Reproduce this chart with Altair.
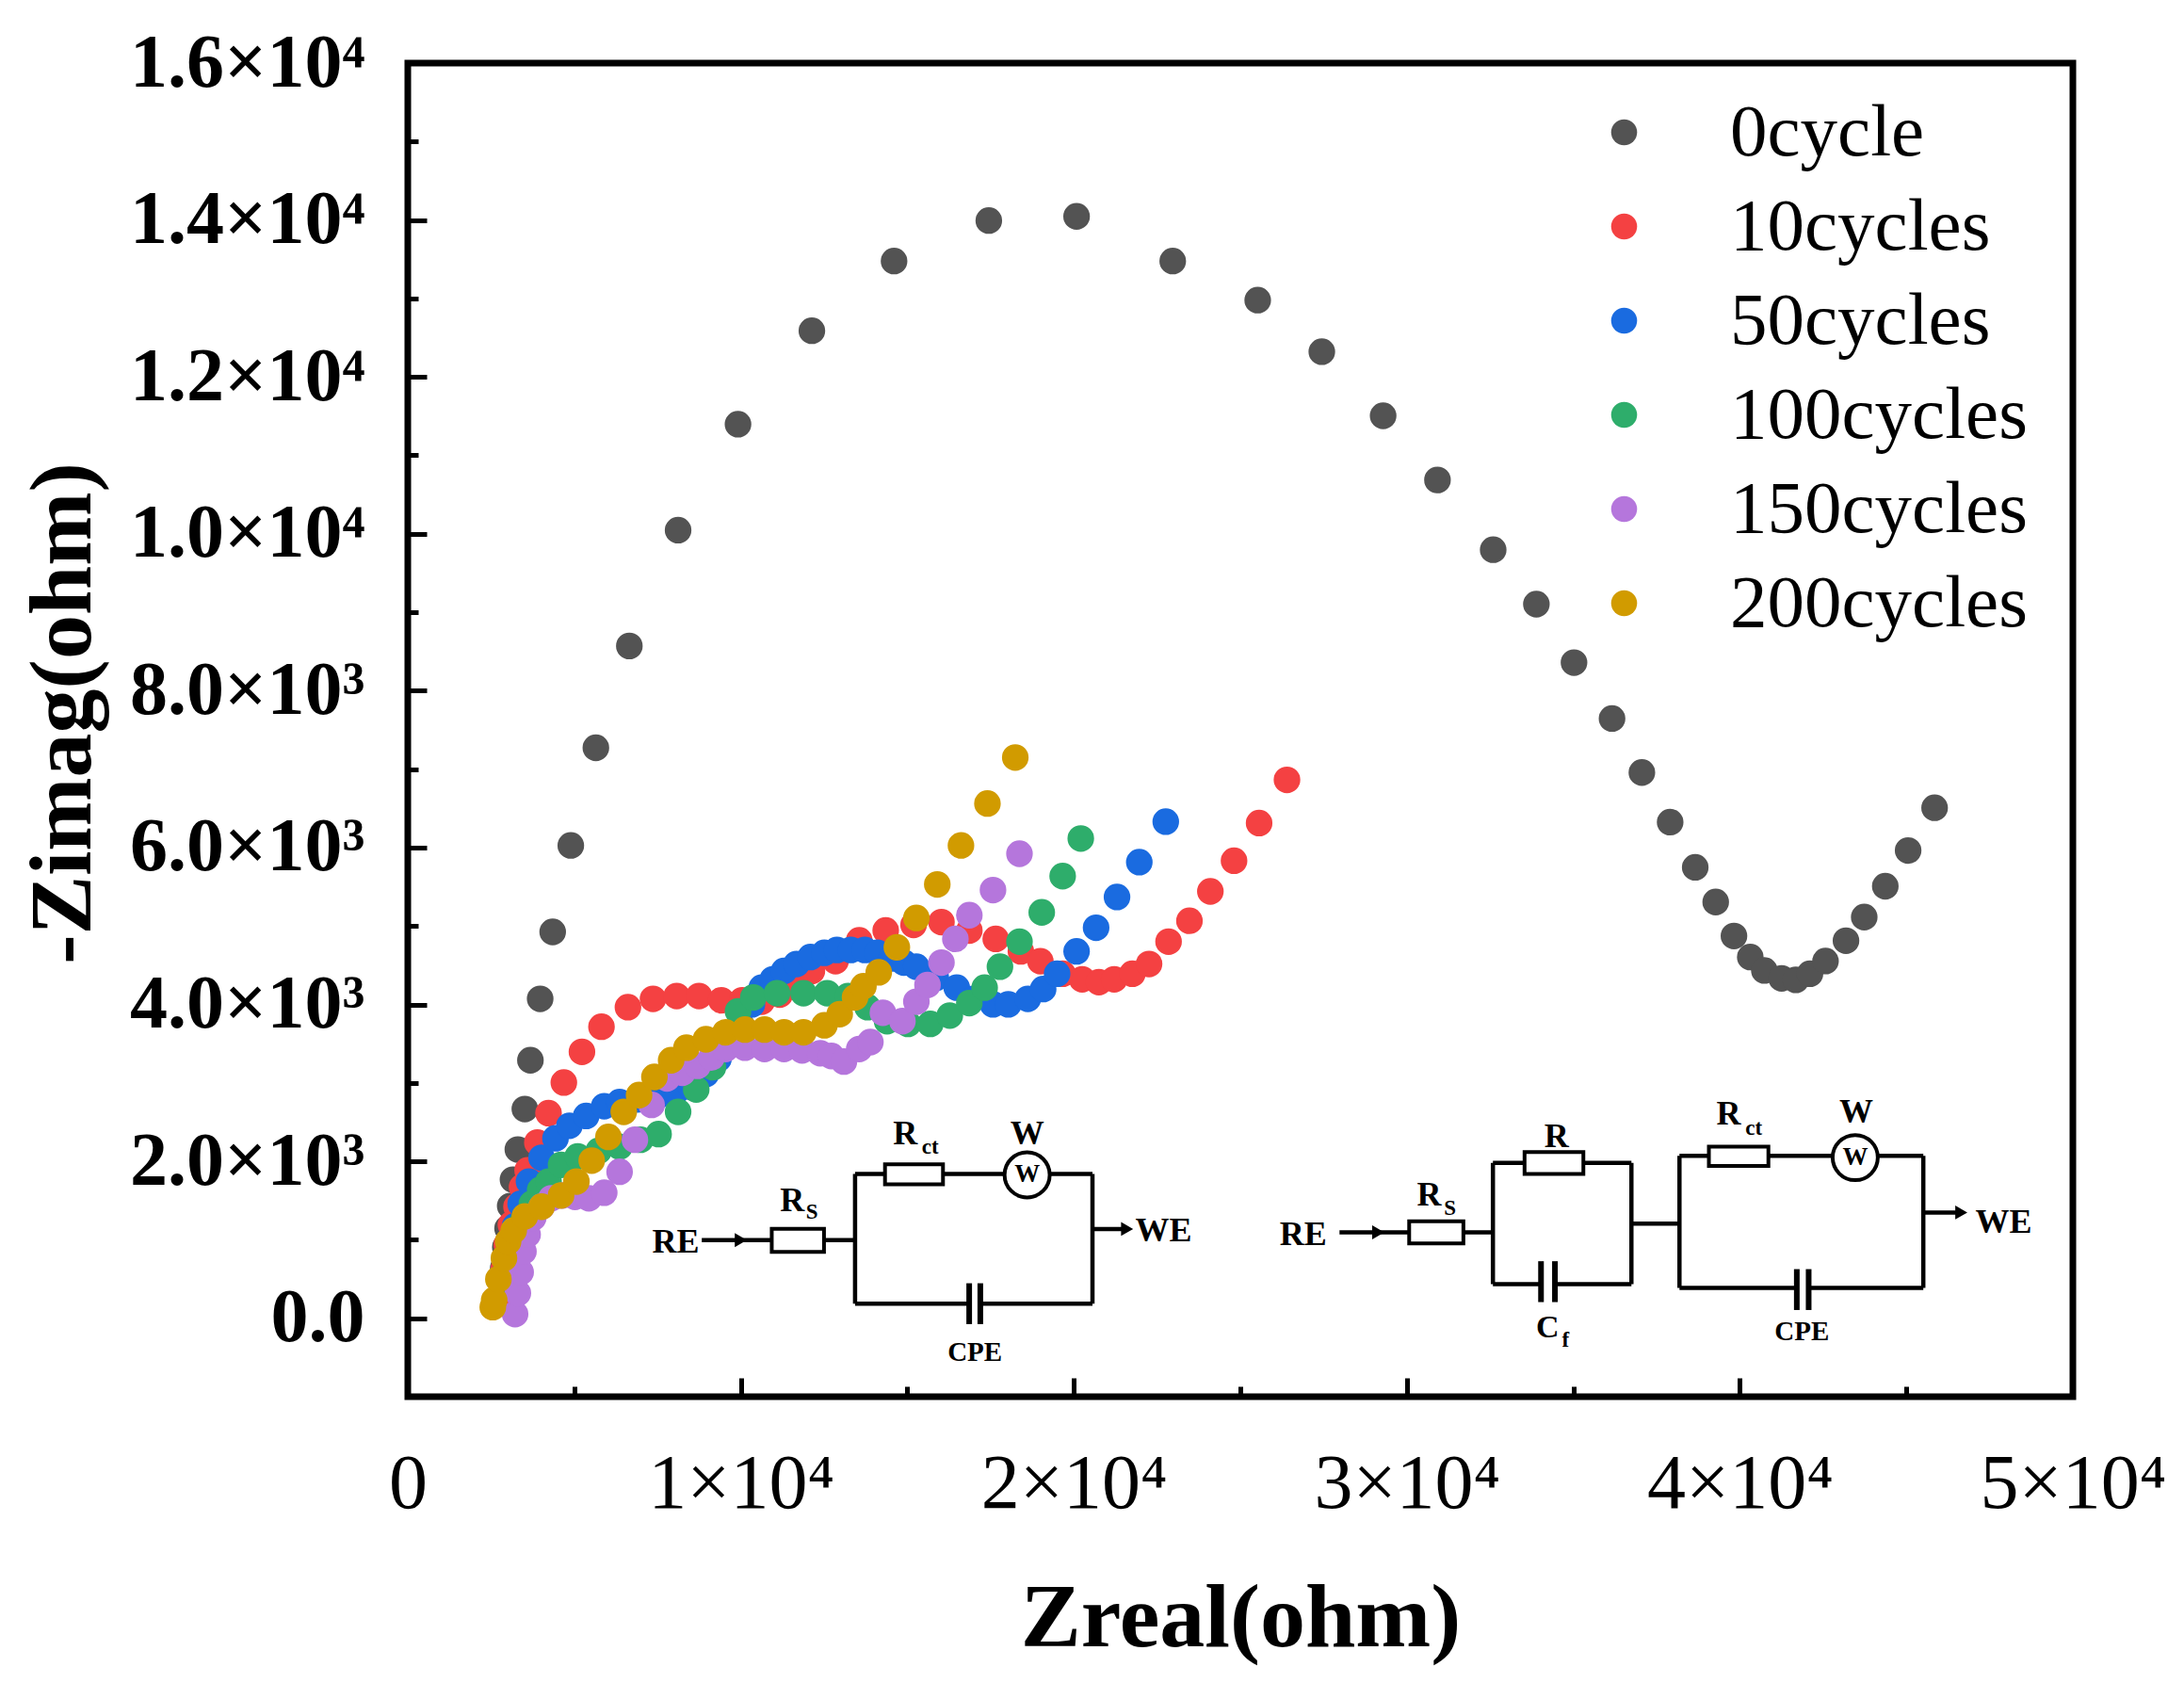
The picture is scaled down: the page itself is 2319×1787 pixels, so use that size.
import altair as alt
import pandas as pd

# ---- impedance data ----
SERIES = ['0cycle', '10cycles', '50cycles', '100cycles', '150cycles', '200cycles']
COLORS = ['#535353', '#F44142', '#1A6BE0', '#2EAD6B', '#B576DC', '#D19B00']

x0 = [2803, 2866, 2929, 2996, 3075, 3159, 3305, 3515, 3682, 3975, 4351, 4895, 5648, 6653, 8117,
      9916, 12134, 14602, 17447, 20083, 22970, 25522, 27447, 29288, 30920, 32593, 33890, 35020,
      36162, 37058, 37907, 38660, 39275, 39823, 40313, 40736, 41254, 41681, 42104, 42572, 43187,
      43735, 44367, 45053, 45848]
y0 = [320, 640, 907, 1145, 1430, 1767, 2151, 2667, 3289, 4072, 4925, 6027, 7272, 8570, 10046,
      11397, 12588, 13477, 13993, 14046, 13477, 12979, 12321, 11504, 10686, 9797, 9103, 8357,
      7645, 6957, 6324, 5748, 5306, 4873, 4605, 4433, 4333, 4313, 4392, 4553, 4813,
      5114, 5507, 5963, 6507]

x10 = [2803, 2887, 2971, 3096, 3264, 3431, 3598, 3891, 4226, 4686, 5230, 5816, 6611, 7364, 8075,
       8745, 9414, 10042, 10627, 11171, 11673, 12134, 12845, 13556, 14351, 15188, 16025, 16862,
       17656, 18410, 18995, 19665, 20251, 20753, 21213, 21757, 22259, 22845, 23472, 24100, 24811,
       25564, 26401]
y10 = [320, 640, 942, 1191, 1422, 1671, 1885, 2240, 2614, 3005, 3396, 3716, 3965, 4072, 4107,
       4107, 4054, 4054, 4036, 4125, 4267, 4427, 4552, 4818, 4943, 5014, 5050, 4943,
       4836, 4676, 4552, 4392, 4321, 4285, 4321, 4392, 4516, 4801, 5067, 5441, 5832,
       6312, 6863]

x50 = [2929, 3054, 3222, 3389, 3640, 4017, 4435, 4853, 5356, 5899, 6360, 6904, 7489, 8033, 8494,
       8954, 9330, 9665, 10000, 10334, 10627, 10962, 11297, 11673, 12092, 12510, 12887, 13305,
       13724, 14100, 14518, 14895, 15272, 15857, 16485, 16987, 17573, 18033, 18619, 19079, 19497,
       20083, 20669, 21297, 21966, 22761]
y50 = [587, 889, 1173, 1458, 1742, 2045, 2294, 2454, 2578, 2703, 2756, 2791, 2827, 2880, 2951,
       3112, 3307, 3520, 3752, 4001, 4214, 4321, 4427, 4516, 4605, 4658, 4694, 4694,
       4694, 4658, 4587, 4534, 4481, 4338, 4214, 4072, 4001, 4001, 4072, 4196, 4392,
       4676, 4978, 5370, 5814, 6330]

x100 = [2971, 3096, 3264, 3473, 3724, 3975, 4226, 4602, 5104, 5732, 6360, 6987, 7531, 8117, 8661,
        9163, 9498, 9916, 10376, 11088, 11883, 12594, 13221, 13807, 14393, 15021, 15690, 16276,
        16862, 17322, 17782, 18368, 19037, 19665, 20209]
y100 = [409, 711, 978, 1245, 1458, 1636, 1742, 1956, 2062, 2134, 2187, 2276, 2347, 2631, 2916,
        3200, 3556, 3912, 4089, 4143, 4143, 4143, 4107, 3965, 3787, 3752, 3752, 3858,
        4018, 4214, 4481, 4801, 5174, 5636, 6116]

x150 = [3222, 3305, 3389, 3473, 3598, 3766, 4017, 4310, 4644, 5021, 5439, 5899, 6360, 6820, 7322,
        7782, 8243, 8703, 9121, 9540, 10125, 10711, 11297, 11841, 12385, 12720, 13096, 13556,
        13891, 14267, 14853, 15272, 15606, 16025, 16443, 16862, 17573, 18368]
y150 = [53, 320, 587, 853, 1067, 1280, 1422, 1529, 1565, 1547, 1529, 1600, 1867, 2276, 2720,
        3058, 3129, 3218, 3325, 3432, 3449, 3432, 3432, 3414, 3378, 3343, 3272, 3432,
        3520, 3894, 3787, 4036, 4249, 4534, 4836, 5138, 5458, 5921]

x200 = [2552, 2594, 2720, 2887, 3012, 3180, 3515, 4017, 4602, 5063, 5523, 6025, 6485, 6945, 7406,
        7908, 8368, 8954, 9540, 10125, 10711, 11297, 11883, 12510, 12970, 13431, 13682, 14142,
        14686, 15272, 15900, 16611, 17406, 18242]
y200 = [142, 231, 498, 765, 978, 1120, 1298, 1422, 1565, 1742, 2009, 2311, 2631, 2845, 3076,
        3289, 3449, 3556, 3645, 3680, 3680, 3645, 3645, 3734, 3876, 4089, 4232, 4409,
        4729, 5103, 5530, 6027, 6561, 7148]

X_TICKS = [0, 10000, 20000, 30000, 40000, 50000]
X_MINOR = [5000, 15000, 25000, 35000, 45000]
Y_TICKS = [0, 2000, 4000, 6000, 8000, 10000, 12000, 14000, 16000]
Y_MINOR = [1000, 3000, 5000, 7000, 9000, 11000, 13000, 15000]

# ---- equivalent circuit insets (drawn in data units) ----
wire_x = [8828, 13431, 13431, 20560, 13431, 17192, 20560,
          27978, 32585, 32585, 36744, 32585, 34447, 36744, 38187, 38187, 45509, 38187, 42066, 45509]
wire_y = [996, 185, 1840, 185, 185, 185, 1138,
          1095, 434, 1981, 434, 434, 434, 1207, 386, 2070, 386, 386, 386, 1348]
wire_x2 = [13431, 13431, 20560, 20560, 16858, 20560, 21500,
           32585, 32585, 36744, 36744, 34029, 36744, 38187, 38187, 45509, 45509, 41710, 45509, 46560]
wire_y2 = [996, 1840, 1840, 1840, 185, 185, 1138,
           1095, 1981, 1981, 1981, 434, 434, 1207, 2070, 2070, 2070, 386, 386, 1348]

plate_x = [16858, 17192, 34029, 34447, 41710, 42066]
plate_lo = [-75, -75, 206, 206, 105, 105]
plate_hi = [446, 446, 727, 727, 626, 626]

res_x = [10929, 14330, 30070, 33535, 39070]
res_x2 = [12498, 16071, 31698, 35301, 40857]
res_y = [846, 1707, 955, 1840, 1940]
res_y2 = [1140, 1961, 1236, 2118, 2189]

warburg_x = [18598, 43464]
warburg_y = [1828, 2048]

arrow_x = [10000, 21600, 29141, 46650]
arrow_y = [996, 1138, 1095, 1348]

lab_text = ['RE', 'WE', 'CPE', 'R', 'S', 'R', 'ct', 'W', 'W',
            'RE', 'WE', 'R', 'S', 'R', 'C', 'f', 'R', 'ct', 'W', 'W', 'CPE']
lab_x = [8046, 22694, 17029, 11548, 12134, 14937, 15690, 18598, 18598,
         26891, 47919, 30669, 31297, 34493, 34225, 34769, 39664, 40417, 43493, 43464, 41865]
lab_y = [967, 1108, -436, 1494, 1351, 2347, 2187, 2349, 1828,
         1067, 1227, 1565, 1405, 2310, -124, -284, 2596, 2418, 2630, 2048, -176]
lab_size = [36, 36, 29, 36, 23, 36, 23, 36, 27,
            36, 36, 36, 23, 36, 34, 23, 36, 23, 36, 27, 29]

FONT = 'Liberation Serif'

frames = []
for name, xs, ys in zip(SERIES, [x0, x10, x50, x100, x150, x200], [y0, y10, y50, y100, y150, y200]):
    frames.append(pd.DataFrame({'zreal': xs, 'zimag': ys, 'series': name}))
pts = pd.concat(frames, ignore_index=True)

xs = alt.Scale(domain=[0, 50000], nice=False, zero=False)
ys = alt.Scale(domain=[-1000, 16000], nice=False, zero=False)

x_fmt = "datum.value == 0 ? '0' : format(datum.value / 10000, 'd') + '×10⁴'"
y_fmt = ("datum.value == 0 ? '0.0' : datum.value < 10000 ? "
         "format(datum.value / 1000, '.1f') + '×10³' : format(datum.value / 10000, '.1f') + '×10⁴'")

points = alt.Chart(pts).mark_circle(size=800, opacity=1).encode(
    x=alt.X('zreal:Q', scale=xs, axis=alt.Axis(
        orient='bottom', values=X_TICKS, labelExpr=x_fmt, ticks=False, domain=False, grid=False,
        labelFont=FONT, labelFontSize=82, labelFontWeight='normal', labelBaseline='alphabetic',
        labelPadding=117, labelColor='black', labelFlush=False, labelLimit=500,
        title='Zreal(ohm)', titleFont=FONT, titleFontSize=96, titleFontWeight='bold',
        titleColor='black', titleY=235, titleBaseline='middle')),
    y=alt.Y('zimag:Q', scale=ys, axis=alt.Axis(
        orient='left', values=Y_TICKS, labelExpr=y_fmt, ticks=False, domain=False, grid=False,
        labelFont=FONT, labelFontSize=80, labelFontWeight='bold', labelPadding=46,
        labelColor='black', labelFlush=False, labelLimit=500,
        title='-Zimag(ohm)', titleFont=FONT, titleFontSize=94, titleFontWeight='bold',
        titleColor='black', titleX=-366, titleY=690, titleBaseline='middle', titleAngle=-90)),
    color=alt.Color('series:N', scale=alt.Scale(domain=SERIES, range=COLORS), legend=alt.Legend(
        title=None, orient='none', legendX=1252, legendY=34, padding=0,
        labelFont=FONT, labelFontSize=79, labelFontWeight='normal', labelColor='black',
        labelOffset=73, labelLimit=600, rowPadding=20,
        symbolType='circle', symbolSize=760, symbolOpacity=1, symbolStrokeWidth=0)),
)


def tick_layer(vals, size, axis_channel):
    df = pd.DataFrame({'v': vals, 'w': vals})
    if axis_channel == 'x':
        enc_x = alt.X('v:Q', scale=xs, axis=alt.Axis(
            orient='bottom', values=vals, labels=False, domain=False, grid=False, ticks=True,
            tickSize=size, tickWidth=5, tickColor='black', offset=-size, title=None))
        enc_y = alt.Y('w:Q', scale=ys, axis=None)
    else:
        enc_x = alt.X('w:Q', scale=xs, axis=None)
        enc_y = alt.Y('v:Q', scale=ys, axis=alt.Axis(
            orient='left', values=vals, labels=False, domain=False, grid=False, ticks=True,
            tickSize=size, tickWidth=5, tickColor='black', offset=-size, title=None))
    return alt.Chart(df).mark_point(opacity=0).encode(x=enc_x, y=enc_y)


wires = alt.Chart(pd.DataFrame({'x': wire_x, 'y': wire_y, 'x2': wire_x2, 'y2': wire_y2})).mark_rule(
    color='black', strokeWidth=4.5).encode(
    x=alt.X('x:Q', scale=xs, axis=None), y=alt.Y('y:Q', scale=ys, axis=None), x2='x2:Q', y2='y2:Q')

plates = alt.Chart(pd.DataFrame({'x': plate_x, 'lo': plate_lo, 'hi': plate_hi})).mark_rule(
    color='black', strokeWidth=6).encode(
    x=alt.X('x:Q', scale=xs, axis=None), y=alt.Y('lo:Q', scale=ys, axis=None), y2='hi:Q')

resistors = alt.Chart(pd.DataFrame({'x': res_x, 'x2': res_x2, 'y': res_y, 'y2': res_y2})).mark_rect(
    fill='white', stroke='black', strokeWidth=4).encode(
    x=alt.X('x:Q', scale=xs, axis=None), x2='x2:Q', y=alt.Y('y:Q', scale=ys, axis=None), y2='y2:Q')

warburg = alt.Chart(pd.DataFrame({'x': warburg_x, 'y': warburg_y})).mark_point(
    shape='circle', size=2300, filled=True, fill='white', stroke='black', strokeWidth=4,
    opacity=1).encode(
    x=alt.X('x:Q', scale=xs, axis=None), y=alt.Y('y:Q', scale=ys, axis=None))

arrows = alt.Chart(pd.DataFrame({'x': arrow_x, 'y': arrow_y})).mark_point(
    shape='triangle-right', size=220, filled=True, color='black', opacity=1).encode(
    x=alt.X('x:Q', scale=xs, axis=None), y=alt.Y('y:Q', scale=ys, axis=None))

labels = alt.Chart(pd.DataFrame({'x': lab_x, 'y': lab_y, 't': lab_text, 's': lab_size})).mark_text(
    font=FONT, fontWeight='bold', color='black', align='center', baseline='middle').encode(
    x=alt.X('x:Q', scale=xs, axis=None), y=alt.Y('y:Q', scale=ys, axis=None),
    text='t:N', size=alt.Size('s:Q', scale=None))

chart = alt.layer(
    wires, plates, resistors, warburg, arrows, labels,
    points,
    tick_layer(X_TICKS, 20, 'x'), tick_layer(X_MINOR, 11, 'x'),
    tick_layer(Y_TICKS, 20, 'y'), tick_layer(Y_MINOR, 11, 'y'),
).resolve_axis(x='independent', y='independent').properties(
    width=1768, height=1416,
    padding={'left': 425, 'top': 59, 'right': 110, 'bottom': 296},
    autosize=alt.AutoSizeParams(type='none'),
    background='white',
).configure_view(stroke='black', strokeWidth=7)

chart.save('out.html', embed_options={'renderer': 'svg', 'actions': False})
